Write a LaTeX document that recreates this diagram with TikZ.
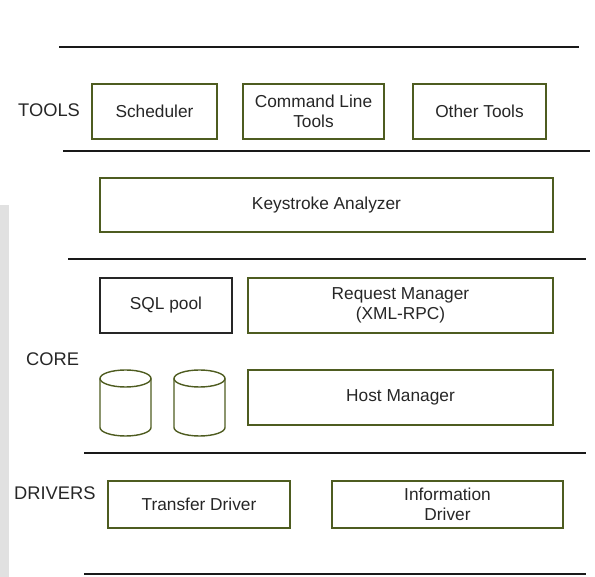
\documentclass[tikz,border=0pt]{standalone}
\usepackage{fontspec}
\setmainfont{Liberation Sans}
\definecolor{olivebox}{RGB}{78,92,32}
\definecolor{stripgray}{RGB}{225,225,225}
\tikzset{
  box/.style={draw=olivebox, line width=1.4pt, inner sep=0pt, align=center,
    font=\fontsize{17.3}{20.5}\selectfont, text=black!85},
  blackbox/.style={box, draw=black!85},
  layerlabel/.style={anchor=west, inner sep=0pt, font=\fontsize{18.3}{20}\selectfont, text=black!85},
  sepline/.style={line width=1.6pt, black!90},
  cyl/.style={draw=olivebox, line width=1.4pt}
}
\begin{document}
\begin{tikzpicture}[x=1pt,y=-1pt]
\useasboundingbox (0,0) rectangle (595,577);
\fill[stripgray] (0,205) rectangle (9,577);

% separator lines
\coordinate (l1a) at (59,47);  \coordinate (l1b) at (579,47);
\coordinate (l2a) at (63,151); \coordinate (l2b) at (590,151);
\coordinate (l3a) at (68,259); \coordinate (l3b) at (586,259);
\coordinate (l4a) at (84,453); \coordinate (l4b) at (586,453);
\coordinate (l5a) at (84,574); \coordinate (l5b) at (586,574);
\draw[sepline] (l1a) -- (l1b);
\draw[sepline] (l2a) -- (l2b);
\draw[sepline] (l3a) -- (l3b);
\draw[sepline] (l4a) -- (l4b);
\draw[sepline] (l5a) -- (l5b);

% labels
\node[layerlabel] (tools) at (18,110) {TOOLS};
\node[layerlabel] (core) at (26,359) {CORE};
\node[layerlabel] (drivers) at (14,493) {DRIVERS};

% tools row
\node[box, minimum width=125pt, minimum height=55pt] (sched) at (154.5,111.5) {Scheduler};
\node[box, minimum width=141pt, minimum height=55pt] (cmd) at (313.5,111.5) {Command Line\\Tools};
\node[box, minimum width=133pt, minimum height=55pt] (other) at (479.5,111.5) {Other Tools};

% keystroke
\node[box, minimum width=453pt, minimum height=54pt] (key) at (326.5,205) {Keystroke Analyzer};

% core
\node[blackbox, minimum width=132pt, minimum height=55pt] (sql) at (166,305.5) {SQL pool};
\node[box, minimum width=305pt, minimum height=55pt] (req) at (400.5,305.5) {Request Manager\\(XML-RPC)};
\node[box, minimum width=305pt, minimum height=55pt] (host) at (400.5,397.5) {Host Manager};

% cylinders
\draw[cyl] (100,378.5) -- (100,427.5) arc[start angle=180, end angle=360, x radius=25.5pt, y radius=8.5pt] -- (151,378.5);
\draw[cyl] (125.5,378.5) ellipse[x radius=25.5pt, y radius=8.5pt];
\draw[cyl] (174,378.5) -- (174,427.5) arc[start angle=180, end angle=360, x radius=25.5pt, y radius=8.5pt] -- (225,378.5);
\draw[cyl] (199.5,378.5) ellipse[x radius=25.5pt, y radius=8.5pt];

% drivers
\node[box, minimum width=182pt, minimum height=47pt] (transfer) at (199,504.5) {Transfer Driver};
\node[box, minimum width=231pt, minimum height=47pt] (info) at (447.5,504.5) {Information\\Driver};
\end{tikzpicture}
\end{document}
